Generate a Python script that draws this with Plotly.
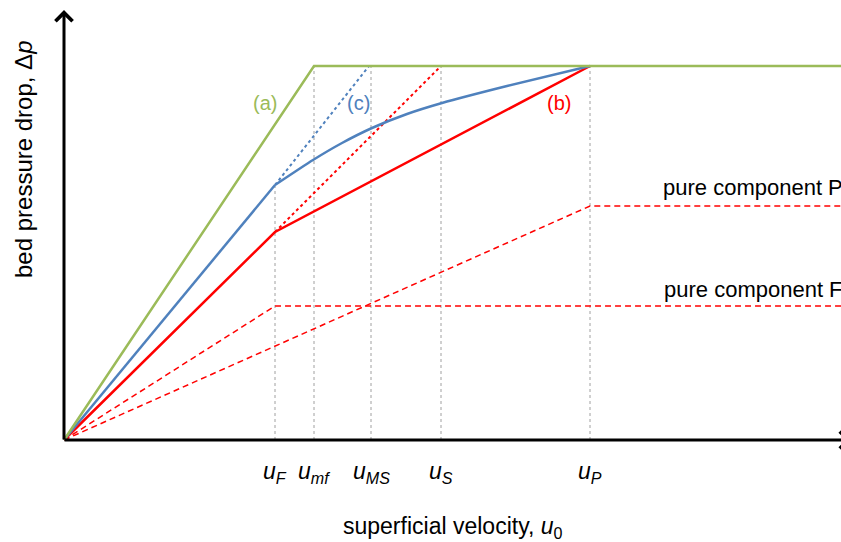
import plotly.graph_objects as go

# ---- data (chart units) ----
u_names = ["F", "mf", "MS", "S", "P"]
u_values = [211, 250, 307, 377, 526]
x_end = 777
dp_top = 374
dp_knee_b = 208
dp_knee_c = 255
dp_pure_F = 134
dp_pure_P = 234

# (a) green
a_x = [0, u_values[1], x_end]
a_y = [0, dp_top, dp_top]
# (b) red
b_x = [0, u_values[0], u_values[4]]
b_y = [0, dp_knee_b, dp_top]
b_dot_x = [u_values[0], u_values[3]]
b_dot_y = [dp_knee_b, dp_top]
# (c) blue
c_x = [0, 211, 249, 278, 308, 343, 378, 443, 526]
c_y = [0, 255, 280, 297, 312, 326, 337, 354, 374]
c_dot_x = [211, 305]
c_dot_y = [255, 374]
# pure components
pF_x = [0, u_values[0], x_end]
pF_y = [0, dp_pure_F, dp_pure_F]
pP_x = [0, u_values[4], x_end]
pP_y = [0, dp_pure_P, dp_pure_P]
# vertical guide tops
guide_tops = [dp_knee_c, dp_top, dp_top, dp_top, dp_top]

GREEN = "#9BBB59"
BLUE = "#4F81BD"
RED = "#FF0000"
GREY = "#A0A0A0"
FONT = "Liberation Sans, Arial, sans-serif"

fig = go.Figure()

# guides
for u, t in zip(u_values, guide_tops):
    fig.add_trace(go.Scatter(x=[u, u], y=[0, t], mode="lines",
                             line=dict(color=GREY, width=1, dash="3px,3px"),
                             hoverinfo="skip", showlegend=False))

# pure component dashed
for xs, ys in [(pF_x, pF_y), (pP_x, pP_y)]:
    fig.add_trace(go.Scatter(x=xs, y=ys, mode="lines",
                             line=dict(color=RED, width=1.5, dash="6px,4px"),
                             showlegend=False))

# dotted extensions
fig.add_trace(go.Scatter(x=c_dot_x, y=c_dot_y, mode="lines",
                         line=dict(color=BLUE, width=2, dash="dot"), showlegend=False))
fig.add_trace(go.Scatter(x=b_dot_x, y=b_dot_y, mode="lines",
                         line=dict(color=RED, width=2, dash="dot"), showlegend=False))

# main curves
fig.add_trace(go.Scatter(x=b_x, y=b_y, mode="lines",
                         line=dict(color=RED, width=2.5), showlegend=False))
fig.add_trace(go.Scatter(x=c_x[:2], y=c_y[:2], mode="lines",
                         line=dict(color=BLUE, width=2.5), showlegend=False))
fig.add_trace(go.Scatter(x=c_x[1:], y=c_y[1:], mode="lines",
                         line=dict(color=BLUE, width=2.5, shape="spline", smoothing=0.6),
                         showlegend=False))
fig.add_trace(go.Scatter(x=a_x, y=a_y, mode="lines",
                         line=dict(color=GREEN, width=2.5), showlegend=False))

ann = []
# axes with arrows
ann.append(dict(x=0, y=430, ax=0, ay=-1, xref="x", yref="y", axref="x", ayref="y",
                text="", showarrow=True, arrowhead=4, arrowsize=1.1, arrowwidth=3,
                arrowcolor="black"))
ann.append(dict(x=787, y=0, ax=-1, ay=0, xref="x", yref="y", axref="x", ayref="y",
                text="", showarrow=True, arrowhead=4, arrowsize=1.1, arrowwidth=3,
                arrowcolor="black"))

# tick labels
for name, u in zip(u_names, u_values):
    ann.append(dict(x=u, y=-32, xref="x", yref="y", showarrow=False,
                    text=f"<i>u</i><sub><i>{name}</i></sub>",
                    font=dict(family=FONT, size=23, color="black"),
                    xanchor="center", yanchor="middle"))

# axis titles
ann.append(dict(x=389, y=-87, xref="x", yref="y", showarrow=False,
                text="superficial velocity, <i>u</i><sub>0</sub>",
                font=dict(family=FONT, size=23, color="black")))
ann.append(dict(x=-41, y=281, xref="x", yref="y", showarrow=False, textangle=-90,
                text="bed pressure drop, Δ<i>p</i>",
                font=dict(family=FONT, size=24, color="black")))

# curve labels
ann.append(dict(x=201, y=337, xref="x", yref="y", showarrow=False, text="(a)",
                font=dict(family=FONT, size=20, color=GREEN)))
ann.append(dict(x=294, y=337, xref="x", yref="y", showarrow=False, text="(c)",
                font=dict(family=FONT, size=20, color=BLUE)))
ann.append(dict(x=495, y=337, xref="x", yref="y", showarrow=False, text="(b)",
                font=dict(family=FONT, size=20, color=RED)))
ann.append(dict(x=1.005, y=(252 + 102) / 542, xref="paper", yref="paper",
                showarrow=False, xanchor="right", yanchor="middle",
                text="pure component P", font=dict(family=FONT, size=22, color="black")))
ann.append(dict(x=1.005, y=(151 + 102) / 542, xref="paper", yref="paper",
                showarrow=False, xanchor="right", yanchor="middle",
                text="pure component F", font=dict(family=FONT, size=22, color="black")))

fig.update_layout(
    width=841, height=542,
    margin=dict(l=0, r=0, t=0, b=0),
    paper_bgcolor="white", plot_bgcolor="white",
    xaxis=dict(range=[-64, 777], visible=False, fixedrange=True),
    yaxis=dict(range=[-102, 440], visible=False, fixedrange=True),
    annotations=ann,
    showlegend=False,
)

fig.write_html("out.html")
